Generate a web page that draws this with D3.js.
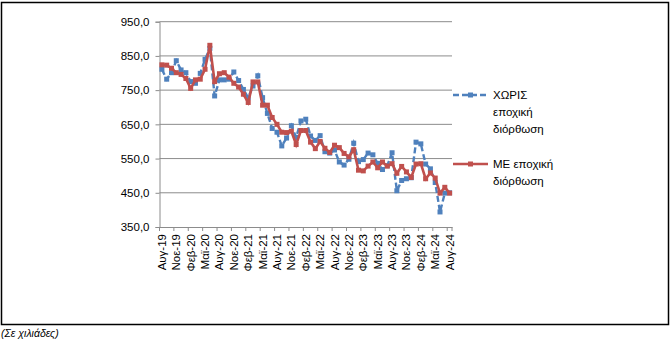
<!DOCTYPE html>
<html><head><meta charset="utf-8">
<script src="https://cdn.jsdelivr.net/npm/d3@7"></script>
<style>
body{margin:0;background:#fff;}
svg{display:block;}
text{font-family:"Liberation Sans",Arial,sans-serif;fill:#000;}
</style></head>
<body><svg id="c" width="672" height="342"></svg>
<script>
const months = ["Ιαν","Φεβ","Μαρ","Απρ","Μαϊ","Ιουν","Ιουλ","Αυγ","Σεπ","Οκτ","Νοε","Δεκ"];
// monthly categories Aug-19 .. Aug-24
const categories = [];
for (let k = 0; k < 61; k++) {
  const m = (7 + k) % 12, y = 19 + Math.floor((7 + k) / 12);
  categories.push(months[m] + "-" + y);
}
const seriesNames = ["ΧΩΡΙΣ εποχική διόρθωση", "ΜΕ εποχική διόρθωση"];
const withoutSA = [811,782,801,836,809,801,775,770,799,840,872,733,780,780,782,803,778,752,728,762,
  792,728,682,638,627,587,610,646,612,660,665,616,603,617,570,566,575,540,531,548,
  595,541,547,566,561,536,518,529,567,456,486,491,494,598,593,534,520,480,394,449,450];
const withSA = [824,823,814,801,796,784,755,780,782,811,881,775,798,801,788,770,759,738,714,774,
  774,706,706,670,650,627,626,630,591,632,632,598,579,600,580,568,589,582,565,555,
  576,516,514,528,540,523,540,528,535,507,527,511,495,534,535,491,508,493,449,466,449];
const yTicks = [350,450,550,650,750,850,950];

const svg = d3.select("#c");
const L = 159.5, R = 452, T = 21.7, B = 227;
const x = d3.scaleBand().domain(categories).range([L, R]).padding(0);
const y = d3.scaleLinear().domain([350, 950]).range([B, T]);
const cx = d => x(d) + x.bandwidth() / 2;
const fmt = v => d3.format(".1f")(v).replace(".", ",");

// outer border
svg.append("rect").attr("x", 1.5).attr("y", 2.5).attr("width", 667).attr("height", 322)
  .attr("fill", "none").attr("stroke", "#000").attr("stroke-width", 1.5);

// gridlines
svg.append("g").selectAll("line").data(yTicks.filter(v => v > 350)).join("line")
  .attr("x1", L).attr("x2", R).attr("y1", d => y(d)).attr("y2", d => y(d))
  .attr("stroke", "#8c8c8c").attr("stroke-width", 1);

// y axis
const ya = svg.append("g").attr("transform", `translate(${L},0)`)
  .call(d3.axisLeft(y).tickValues(yTicks).tickFormat(fmt).tickSize(4).tickPadding(6));
ya.select(".domain").attr("stroke", "#8c8c8c");
ya.selectAll(".tick line").attr("stroke", "#8c8c8c");
ya.selectAll("text").style("font-size", "11.5px").attr("fill", "#000");

// x axis
const xa = svg.append("g").attr("transform", `translate(0,${B})`)
  .call(d3.axisBottom(x).tickValues(categories.filter((d, i) => i % 3 === 0)).tickSize(0).tickPadding(0));
xa.select(".domain").attr("stroke", "#8c8c8c");
xa.selectAll("text").style("font-size", "11.5px").attr("fill", "#000")
  .attr("transform", "rotate(-90)").attr("text-anchor", "end")
  .attr("x", -7).attr("y", 0).attr("dy", "0.35em");
// tick marks between categories every 3
const tickPos = categories.filter((d, i) => i % 3 === 0).map(d => x(d)).concat([R]);
svg.append("g").selectAll("line").data(tickPos).join("line")
  .attr("x1", d => d).attr("x2", d => d).attr("y1", B).attr("y2", B + 4)
  .attr("stroke", "#8c8c8c");

// series
const blue = "#4F81BD", red = "#C0504D";
const line = d3.line().x((d, i) => cx(categories[i])).y(d => y(d));
svg.append("path").datum(withoutSA).attr("d", line).attr("fill", "none")
  .attr("stroke", blue).attr("stroke-width", 2.4).attr("stroke-dasharray", "6,3");
svg.append("g").selectAll("rect").data(withoutSA).join("rect")
  .attr("x", (d, i) => cx(categories[i]) - 2.5).attr("y", d => y(d) - 2.5)
  .attr("width", 5).attr("height", 5).attr("fill", blue);
svg.append("path").datum(withSA).attr("d", line).attr("fill", "none")
  .attr("stroke", red).attr("stroke-width", 2.6);
svg.append("g").selectAll("rect").data(withSA).join("rect")
  .attr("x", (d, i) => cx(categories[i]) - 2.5).attr("y", d => y(d) - 2.5)
  .attr("width", 5).attr("height", 5).attr("fill", red);

// legend
const leg = [
  {name: seriesNames[0], color: blue, dash: "6,3", y: 95, lines: ["ΧΩΡΙΣ", "εποχική", "διόρθωση"]},
  {name: seriesNames[1], color: red, dash: null, y: 164, lines: ["ΜΕ εποχική", "διόρθωση"]}
];
leg.forEach(l => {
  const g = svg.append("g");
  g.append("line").attr("x1", 453).attr("x2", 488).attr("y1", l.y).attr("y2", l.y)
    .attr("stroke", l.color).attr("stroke-width", 2.4).attr("stroke-dasharray", l.dash);
  g.append("rect").attr("x", 468).attr("y", l.y - 2.5).attr("width", 5).attr("height", 5).attr("fill", l.color);
  l.lines.forEach((t, j) => {
    g.append("text").attr("x", 493).attr("y", l.y + 4 + j * 17).style("font-size", "11.5px").text(t);
  });
});

// footnote
svg.append("text").attr("x", 1).attr("y", 337).style("font-size", "10.5px")
  .style("font-style", "italic").text("(Σε χιλιάδες)");
</script></body></html>
